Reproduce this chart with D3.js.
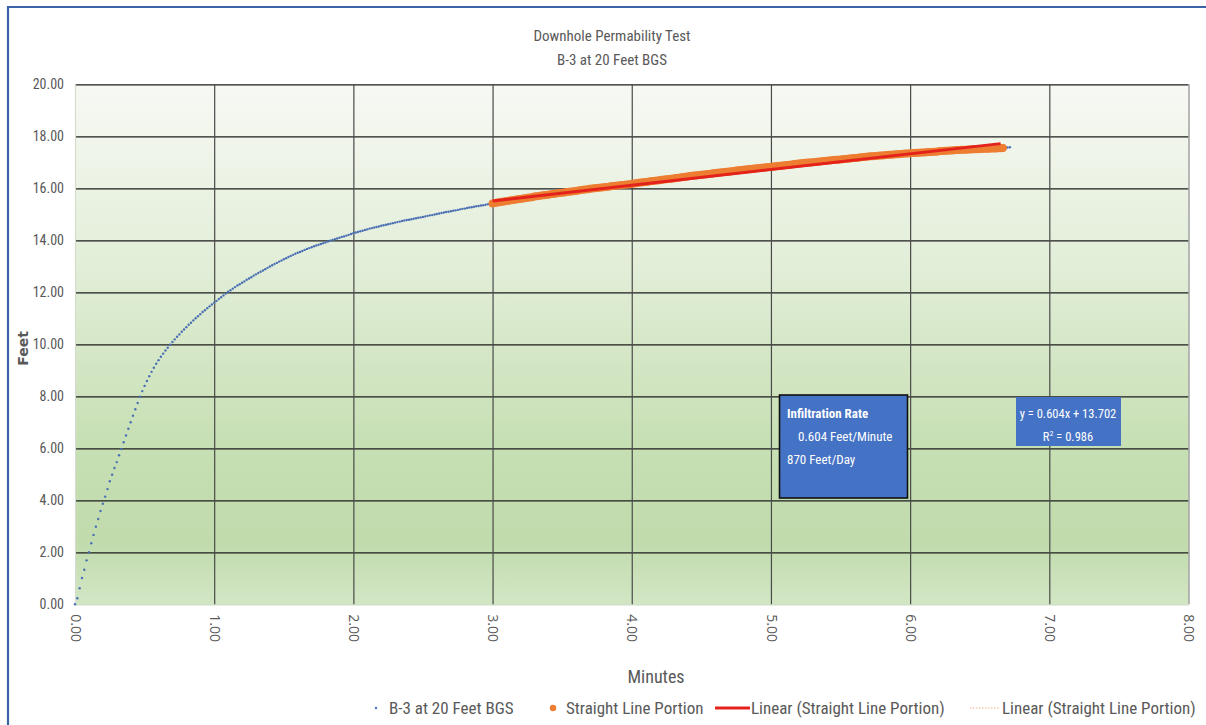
<!DOCTYPE html>
<html>
<head>
<meta charset="utf-8">
<script src="https://cdn.jsdelivr.net/npm/d3@7"></script>
<style>
  html, body { margin: 0; padding: 0; background: #ffffff; }
  svg { display: block; }
</style>
</head>
<body>
<svg id="chart" width="1206" height="725"></svg>
<script>
// ---------------- DATA ----------------
const chartTitle = ["Downhole Permability Test", "B-3 at 20 Feet BGS"];
const xTicks = [0, 1, 2, 3, 4, 5, 6, 7, 8];
const yTicks = [0, 2, 4, 6, 8, 10, 12, 14, 16, 18, 20];
const sampleIntervalMin = 1 / 60; // one reading per second
// depth (feet) readings, one per second
const depthFt = [
  0,0.23,0.62,1.01,1.33,1.69,2.00,2.35,2.67,2.98,
  3.28,3.59,3.87,4.14,4.43,4.73,4.98,5.24,5.47,5.73,
  5.97,6.23,6.49,6.75,7.00,7.25,7.50,7.74,7.98,8.20,
  8.40,8.59,8.77,8.94,9.10,9.25,9.39,9.52,9.64,9.76,
  9.87,9.98,10.09,10.19,10.29,10.38,10.48,10.57,10.66,10.75,
  10.83,10.92,11.00,11.08,11.16,11.24,11.31,11.39,11.46,11.53,
  11.60,11.67,11.74,11.81,11.88,11.95,12.02,12.08,12.14,12.20,
  12.26,12.31,12.37,12.42,12.48,12.53,12.58,12.64,12.69,12.74,
  12.79,12.84,12.89,12.94,12.99,13.04,13.09,13.13,13.18,13.22,
  13.27,13.31,13.36,13.40,13.44,13.48,13.52,13.55,13.59,13.63,
  13.67,13.70,13.73,13.77,13.80,13.83,13.86,13.89,13.92,13.95,
  13.98,14.01,14.04,14.07,14.10,14.13,14.15,14.18,14.21,14.24,
  14.27,14.30,14.32,14.35,14.37,14.40,14.42,14.45,14.47,14.49,
  14.51,14.53,14.56,14.58,14.60,14.62,14.64,14.66,14.68,14.70,
  14.72,14.74,14.76,14.78,14.79,14.81,14.83,14.85,14.87,14.88,
  14.90,14.92,14.94,14.96,14.97,14.99,15.01,15.03,15.05,15.07,
  15.09,15.10,15.12,15.14,15.15,15.17,15.19,15.21,15.22,15.24,
  15.26,15.27,15.29,15.31,15.32,15.34,15.35,15.37,15.39,15.40,
  15.42,15.43,15.45,15.46,15.48,15.49,15.51,15.52,15.54,15.55,
  15.57,15.58,15.59,15.61,15.62,15.64,15.65,15.66,15.68,15.69,
  15.70,15.72,15.73,15.74,15.75,15.77,15.78,15.79,15.81,15.82,
  15.83,15.84,15.86,15.87,15.88,15.89,15.90,15.92,15.93,15.94,
  15.95,15.96,15.98,15.99,16.00,16.01,16.02,16.03,16.04,16.05,
  16.06,16.08,16.09,16.10,16.11,16.12,16.13,16.14,16.15,16.16,
  16.17,16.18,16.19,16.21,16.22,16.23,16.24,16.25,16.27,16.28,
  16.29,16.30,16.31,16.33,16.34,16.35,16.36,16.37,16.38,16.40,
  16.41,16.42,16.43,16.44,16.45,16.47,16.48,16.49,16.50,16.51,
  16.52,16.53,16.54,16.55,16.56,16.58,16.59,16.60,16.61,16.62,
  16.63,16.64,16.65,16.66,16.67,16.68,16.69,16.70,16.71,16.72,
  16.73,16.74,16.75,16.76,16.77,16.78,16.79,16.80,16.81,16.82,
  16.83,16.84,16.85,16.86,16.87,16.88,16.89,16.90,16.91,16.92,
  16.93,16.94,16.95,16.96,16.97,16.98,16.99,16.99,17.00,17.01,
  17.02,17.03,17.04,17.05,17.06,17.07,17.08,17.09,17.10,17.10,
  17.11,17.12,17.13,17.14,17.15,17.16,17.17,17.17,17.18,17.19,
  17.20,17.21,17.22,17.23,17.23,17.24,17.25,17.26,17.26,17.27,
  17.28,17.29,17.29,17.30,17.31,17.31,17.32,17.33,17.34,17.34,
  17.35,17.36,17.36,17.37,17.37,17.38,17.38,17.39,17.40,17.40,
  17.41,17.41,17.42,17.43,17.43,17.44,17.44,17.45,17.45,17.46,
  17.47,17.47,17.48,17.48,17.48,17.49,17.49,17.50,17.50,17.50,
  17.51,17.51,17.52,17.52,17.52,17.53,17.53,17.53,17.54,17.54,
  17.55,17.56,17.57,17.58
];
// "Straight Line Portion" = readings from index 180 to 400 (3.00 to 6.67 min)
const straightStartIdx = 180;
const straightEndIdx = 400;
// trendline from the chart's equation label
const trendSlope = 0.604;
const trendIntercept = 13.702;
const trendR2 = 0.986;
const trendRange = [3.0, 6.65];
const infiltrationLines = ["Infiltration Rate", "0.604 Feet/Minute", "870 Feet/Day"];
const legendLabels = ["B-3 at 20 Feet BGS", "Straight Line Portion", "Linear (Straight Line Portion)", "Linear (Straight Line Portion)"];

// ---------------- CHART ----------------
const svg = d3.select("#chart");
const W = 1206, H = 725;
const plot = { left: 75, right: 1188.5, top: 84.3, bottom: 604.3 };
const narrow = "'Liberation Sans Narrow', 'Roboto Condensed', 'DejaVu Sans Condensed', 'Liberation Sans', sans-serif";
const textColor = "#595959";

const x = d3.scaleLinear().domain([0, 8]).range([plot.left, plot.right]);
const y = d3.scaleLinear().domain([0, 20]).range([plot.bottom, plot.top]);

svg.append("rect").attr("width", W).attr("height", H).attr("fill", "#ffffff");

// background gradient
const defs = svg.append("defs");
const grad = defs.append("linearGradient").attr("id", "bg").attr("x1", 0).attr("y1", 0).attr("x2", 0).attr("y2", 1);
[["0%", "#f7f9f4"], ["35%", "#e2eed8"], ["70%", "#c6dfb3"], ["88%", "#c1dbad"], ["100%", "#d2e6c4"]]
  .forEach(([o, c]) => grad.append("stop").attr("offset", o).attr("stop-color", c));
svg.append("rect")
  .attr("x", plot.left).attr("y", plot.top)
  .attr("width", plot.right - plot.left).attr("height", plot.bottom - plot.top)
  .attr("fill", "url(#bg)");

// frame
svg.append("path").attr("d", `M8,${H} V7 H${W}`).attr("fill", "none")
  .attr("stroke", "#3a63a8").attr("stroke-width", 2.2);

// y axis with horizontal gridlines
const yAxis = svg.append("g").attr("transform", `translate(${plot.left},0)`)
  .call(d3.axisLeft(y).tickValues(yTicks).tickFormat(d3.format(".2f"))
    .tickSize(-(plot.right - plot.left)).tickPadding(11));
yAxis.select(".domain").remove();
yAxis.selectAll(".tick line")
  .attr("stroke", d => d === 0 ? "#c9d9bf" : "#1c1c1c").attr("stroke-width", 1.3);
yAxis.selectAll(".tick text")
  .attr("fill", textColor).style("font-family", narrow).style("font-size", "14px");

// x axis with vertical gridlines
const xAxis = svg.append("g").attr("transform", `translate(0,${plot.bottom})`)
  .call(d3.axisBottom(x).tickValues(xTicks).tickFormat(d3.format(".2f"))
    .tickSize(-(plot.bottom - plot.top)).tickPadding(0));
xAxis.select(".domain").remove();
xAxis.selectAll(".tick line")
  .attr("stroke", d => d === 0 ? "#d4ddd0" : (d === 8 ? "#8a8a8a" : "#4a4a4a"))
  .attr("stroke-width", 1.2);
xAxis.selectAll(".tick text")
  .attr("fill", textColor).style("font-family", "'Open Sans', sans-serif").style("font-size", "14px")
  .attr("text-anchor", "start").attr("y", 0).attr("dy", "0.35em")
  .attr("transform", "translate(0,10) rotate(90)");

// trendline 2 (faint dotted) beneath markers
const trendLine = d3.line().x(d => x(d)).y(d => y(trendSlope * d + trendIntercept));
svg.append("path").datum(trendRange).attr("d", trendLine)
  .attr("fill", "none").attr("stroke", "#f4b183").attr("stroke-width", 1).attr("stroke-dasharray", "1.5 1.5");

// blue series
const series = depthFt.map((v, i) => ({ t: i * sampleIntervalMin, v }));
svg.append("g").selectAll("circle").data(series).join("circle")
  .attr("cx", d => x(d.t)).attr("cy", d => y(d.v)).attr("r", 1.2)
  .attr("fill", "#4a6fb3");

// straight line portion (orange markers)
const straight = series.slice(straightStartIdx, straightEndIdx + 1);
svg.append("g").selectAll("circle").data(straight).join("circle")
  .attr("cx", d => x(d.t)).attr("cy", d => y(d.v)).attr("r", 4)
  .attr("fill", "#ed7d31");

// red trendline
svg.append("path").datum(trendRange).attr("d", trendLine)
  .attr("fill", "none").attr("stroke", "#e3231b").attr("stroke-width", 3);

// title
svg.append("g").selectAll("text").data(chartTitle).join("text")
  .attr("x", 612).attr("y", (d, i) => 41 + i * 24)
  .attr("text-anchor", "middle").attr("fill", textColor)
  .style("font-family", narrow).style("font-size", "15px").text(d => d);

// axis titles
svg.append("text").attr("x", 656).attr("y", 683).attr("text-anchor", "middle")
  .attr("fill", textColor).style("font-family", narrow).style("font-size", "18px").text("Minutes");
svg.append("text").attr("transform", `translate(28,${(plot.top + plot.bottom) / 2 + 4}) rotate(-90)`)
  .attr("text-anchor", "middle").attr("fill", textColor)
  .style("font-family", "'DejaVu Sans', sans-serif").style("font-size", "14px").style("font-weight", "bold")
  .text("Feet");

// infiltration box
const ib = svg.append("g");
ib.append("rect").attr("x", 779.5).attr("y", 395).attr("width", 128).attr("height", 103)
  .attr("fill", "#4472c4").attr("stroke", "#111").attr("stroke-width", 1.6);
ib.selectAll("text").data(infiltrationLines).join("text")
  .attr("x", (d, i) => i === 1 ? 798 : 787).attr("y", (d, i) => 418 + i * 23)
  .attr("fill", "#ffffff").style("font-family", narrow).style("font-size", "13px")
  .style("font-weight", (d, i) => i === 0 ? "bold" : "normal").text(d => d);

// equation box
const eb = svg.append("g");
eb.append("rect").attr("x", 1016).attr("y", 397).attr("width", 105).attr("height", 49).attr("fill", "#4472c4");
eb.append("text").attr("x", 1068).attr("y", 418).attr("text-anchor", "middle").attr("fill", "#fff")
  .style("font-family", narrow).style("font-size", "12.5px")
  .text(`y = ${trendSlope}x + ${trendIntercept}`);
const r2 = eb.append("text").attr("x", 1068).attr("y", 441).attr("text-anchor", "middle").attr("fill", "#fff")
  .style("font-family", narrow).style("font-size", "12.5px");
r2.append("tspan").text("R");
r2.append("tspan").attr("dy", -5).style("font-size", "8px").text("2");
r2.append("tspan").attr("dy", 5).text(` = ${trendR2}`);

// legend
const ly = 708;
const lg = svg.append("g").style("font-family", narrow).style("font-size", "17px").attr("fill", textColor);
lg.append("circle").attr("cx", 376).attr("cy", ly).attr("r", 1.2).attr("fill", "#4a6fb3");
lg.append("text").attr("x", 389).attr("y", ly).attr("dy", "0.35em").text(legendLabels[0]);
lg.append("circle").attr("cx", 553).attr("cy", ly).attr("r", 3.2).attr("fill", "#ed7d31");
lg.append("text").attr("x", 566).attr("y", ly).attr("dy", "0.35em").text(legendLabels[1]);
lg.append("line").attr("x1", 715).attr("x2", 750).attr("y1", ly).attr("y2", ly)
  .attr("stroke", "#e3231b").attr("stroke-width", 3);
lg.append("text").attr("x", 751).attr("y", ly).attr("dy", "0.35em").text(legendLabels[2]);
lg.append("line").attr("x1", 970).attr("x2", 1000).attr("y1", ly).attr("y2", ly)
  .attr("stroke", "#f4b183").attr("stroke-width", 1).attr("stroke-dasharray", "1.5 1.5");
lg.append("text").attr("x", 1002).attr("y", ly).attr("dy", "0.35em").text(legendLabels[3]);
</script>
</body>
</html>
